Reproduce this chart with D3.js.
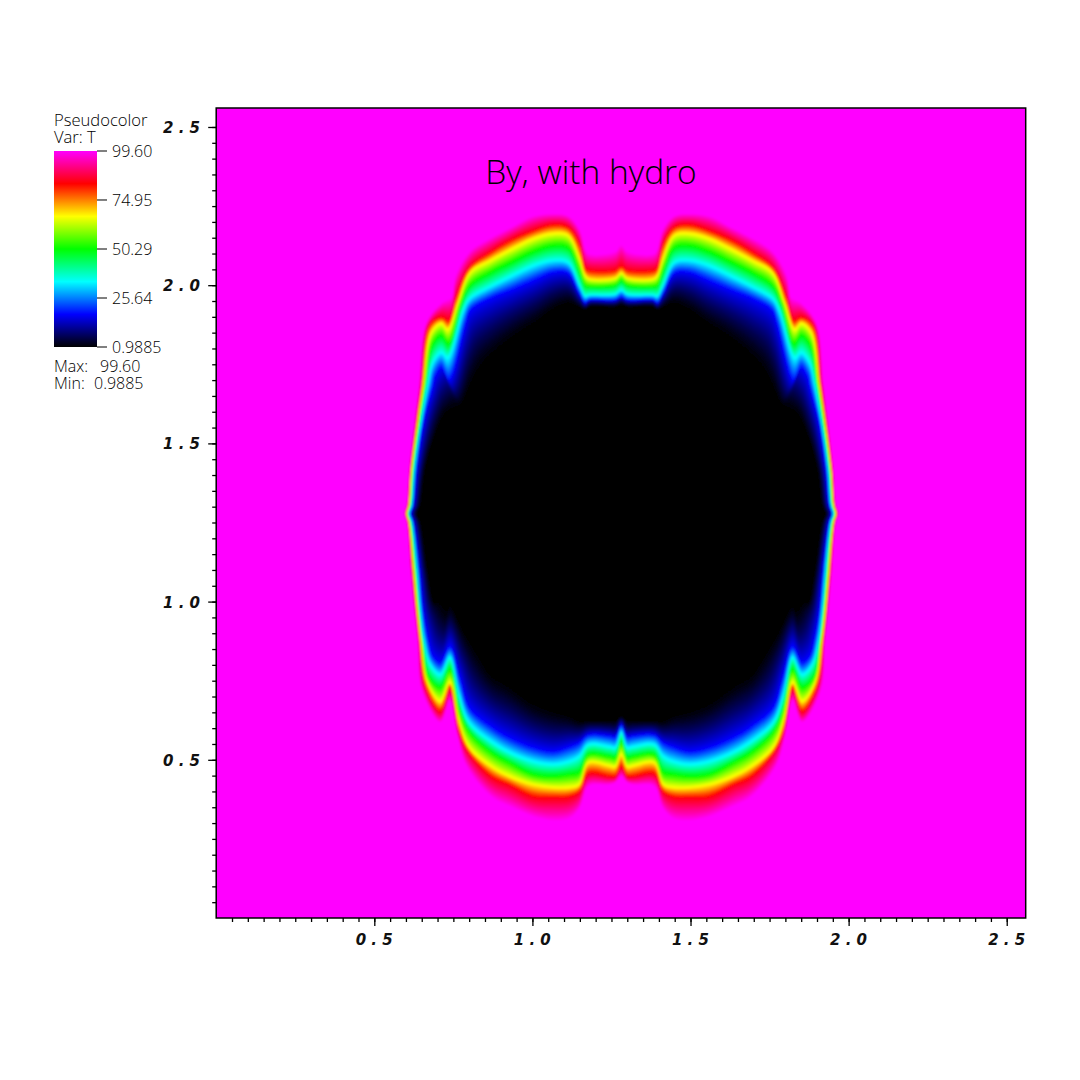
<!DOCTYPE html>
<html><head><meta charset="utf-8">
<script src="https://cdn.jsdelivr.net/npm/d3@7"></script>
<style>html,body{margin:0;padding:0;background:#fff}svg{display:block}</style>
</head><body><svg id="c" width="1080" height="1080"></svg>
<script>
const title = "By, with hydro";
const legendLines = ["Pseudocolor", "Var: T"];
const legendTicks = [99.60, 74.95, 50.29, 25.64, 0.9885];
const legendTickLabels = ["99.60", "74.95", "50.29", "25.64", "0.9885"];
const maxMinLabels = [["Max:", "99.60"], ["Min:", "0.9885"]];
const axisMajor = [0.5, 1.0, 1.5, 2.0, 2.5];
const axisMinorCount = 51;
const colorNames = ["#000000", "#0000ff", "#00ffff", "#00ff00", "#ffff00", "#ff0000", "#ff00ff"];
const colorT = [0.9885, 17.42, 33.85, 50.29, 66.72, 83.16, 99.60];
const centreX = 1.281;
// T value on each contour of the ring
const contourT = [99.6, 83.16, 66.72, 50.29, 33.85, 17.42, 0.9885];
// Right half of each contour, top centre round to bottom centre: distance from centreX, per spoke and contour
const rimDx = [
[0,0,0,0,0,0,0],
[.019,.019,.019,.019,.019,.019,.019],
[.101,.101,.101,.101,.101,.101,.101],
[.114,.114,.114,.114,.114,.114,.114],
[.133,.133,.133,.133,.133,.133,.133],
[.168,.168,.168,.168,.168,.168,.168],
[.215,.215,.215,.215,.215,.215,.215],
[.278,.278,.278,.278,.278,.278,.269],
[.351,.351,.351,.351,.351,.351,.332],
[.414,.414,.414,.414,.414,.414,.395],
[.478,.478,.478,.478,.478,.478,.443],
[.522,.522,.517,.506,.500,.493,.474],
[.535,.544,.549,.546,.549,.546,.506],
[.569,.569,.569,.569,.569,.569,.525],
[.617,.607,.601,.596,.596,.591,.544],
[.640,.631,.626,.620,.613,.596,.557],
[.653,.647,.642,.639,.632,.625,.585],
[.671,.666,.663,.659,.655,.648,.620],
[.678,.674,.671,.667,.663,.658,.635],
[.686,.682,.678,.675,.671,.666,.645],
[.678,.674,.671,.667,.663,.658,.635],
[.666,.661,.656,.652,.647,.639,.612],
[.655,.648,.645,.640,.636,.628,.590],
[.644,.639,.634,.629,.625,.612,.575],
[.632,.620,.613,.609,.604,.596,.562],
[.572,.572,.572,.572,.572,.572,.552],
[.542,.542,.542,.542,.542,.542,.542],
[.517,.512,.512,.512,.512,.512,.490],
[.490,.481,.481,.481,.481,.481,.449],
[.411,.411,.411,.411,.411,.411,.411],
[.354,.354,.354,.354,.354,.354,.354],
[.278,.278,.278,.278,.278,.278,.278],
[.215,.215,.215,.215,.215,.215,.215],
[.164,.164,.164,.164,.164,.164,.164],
[.133,.133,.133,.133,.133,.133,.133],
[.104,.104,.104,.104,.104,.104,.104],
[.038,.038,.038,.038,.038,.038,.038],
[.019,.019,.019,.019,.019,.019,.019],
[0,0,0,0,0,0,0]
];
// Height of the same points
const rimY = [
[2.133,2.061,2.039,2.016,1.985,1.963,1.937],
[2.111,2.048,2.023,2.001,1.972,1.953,1.931],
[2.102,2.048,2.020,1.997,1.969,1.953,1.931],
[2.118,2.054,2.032,2.001,1.966,1.944,1.922],
[2.181,2.133,2.089,2.048,2.001,1.975,1.928],
[2.222,2.184,2.159,2.121,2.073,2.039,1.940],
[2.228,2.193,2.165,2.127,2.080,2.042,1.920],
[2.222,2.174,2.149,2.108,2.064,2.016,1.880],
[2.184,2.143,2.114,2.073,2.029,1.985,1.840],
[2.152,2.105,2.080,2.042,1.997,1.960,1.790],
[2.111,2.058,2.042,2.001,1.960,1.922,1.740],
[2.039,1.960,1.944,1.944,1.922,1.881,1.685],
[1.969,1.890,1.862,1.817,1.773,1.700,1.620],
[1.947,1.900,1.881,1.843,1.789,1.741,1.610],
[1.881,1.874,1.852,1.817,1.757,1.710,1.600],
[1.685,1.685,1.685,1.685,1.685,1.685,1.590],
[1.574,1.574,1.574,1.574,1.574,1.574,1.530],
[1.416,1.416,1.416,1.416,1.416,1.416,1.416],
[1.305,1.305,1.305,1.305,1.305,1.305,1.305],
[1.278,1.278,1.278,1.278,1.278,1.278,1.278],
[1.252,1.252,1.252,1.252,1.252,1.252,1.252],
[1.100,1.100,1.100,1.100,1.100,1.100,1.100],
[.973,.973,.973,.973,.973,.973,1.000],
[.879,.879,.879,.879,.879,.879,1.000],
[.721,.733,.743,.759,.800,.825,.985],
[.616,.651,.683,.727,.768,.806,.975],
[.683,.727,.743,.784,.822,.857,.990],
[.572,.585,.616,.657,.698,.762,.895],
[.477,.522,.537,.588,.616,.664,.830],
[.379,.446,.477,.522,.556,.604,.770],
[.348,.420,.446,.490,.522,.569,.735],
[.316,.382,.420,.452,.493,.537,.680],
[.303,.379,.411,.446,.484,.525,.655],
[.310,.382,.411,.452,.493,.540,.640],
[.341,.398,.420,.458,.509,.553,.625],
[.414,.455,.490,.515,.547,.578,.625],
[.420,.446,.480,.509,.540,.575,.625],
[.427,.446,.477,.506,.537,.572,.625],
[.446,.477,.515,.556,.585,.610,.640]
];

const svg = d3.select("#c");
const x = d3.scaleLinear().domain([0, 2.56]).range([216.2, 1025.7]);
const y = d3.scaleLinear().domain([0, 2.56]).range([918, 108]);
const color = d3.scaleLinear().domain(colorT).range(colorNames).interpolate(d3.interpolateRgb).clamp(true);

// field background
svg.append("rect").attr("x", x(0)).attr("y", y(2.56)).attr("width", x(2.56)-x(0)).attr("height", y(0)-y(2.56)).attr("fill", color(99.6));

const defs = svg.append("defs");
defs.append("filter").attr("id", "soft").attr("filterUnits", "userSpaceOnUse").attr("x", 217).attr("y", 109).attr("width", 808).attr("height", 808)
  .append("feGaussianBlur").attr("stdDeviation", 0.9);

// nested filled contours
const line = d3.line().x(d => x(d[0])).y(d => y(d[1])).curve(d3.curveCatmullRomClosed.alpha(0.5));
const field = svg.append("g").attr("filter", "url(#soft)");
function ringAt(k, f) {
  const right = rimDx.map((row, i) => {
    const j = Math.min(k + 1, row.length - 1);
    return [row[k] + (row[j] - row[k]) * f, rimY[i][k] + (rimY[i][j] - rimY[i][k]) * f];
  });
  const pts = right.map(p => [centreX + p[0], p[1]]);
  const left = right.slice(1, -1).reverse().map(p => [centreX - p[0], p[1]]);
  return pts.concat(left);
}
const lastBand = contourT.length - 2;
for (let k = 0; k <= lastBand; k++) {
  const n = k === lastBand ? 30 : 10;
  for (let s = 0; s < n; s++) {
    const f = s / n;
    // the blue to black band has a long dark tail
    const g = k === lastBand ? 1 - Math.pow(1 - f, 1.35) : f;
    const T = contourT[k] + (contourT[k + 1] - contourT[k]) * g;
    field.append("path").attr("d", line(ringAt(k, f))).attr("fill", color(T));
  }
}
field.append("path").attr("d", line(ringAt(6, 0))).attr("fill", color(0.9885));

// frame and axes
svg.append("rect").attr("x", x(0)).attr("y", y(2.56)).attr("width", x(2.56)-x(0)).attr("height", y(0)-y(2.56))
  .attr("fill", "none").attr("stroke", "#000").attr("stroke-width", 1.5);
const minor = d3.range(axisMinorCount).map(i => i * 0.05).filter(v => v > 0);
const styleAxis = g => { g.select(".domain").remove(); g.selectAll("line").attr("stroke", "#000").attr("stroke-width", 1.3); };
svg.append("g").attr("transform", `translate(0,${y(0)})`).call(d3.axisBottom(x).tickValues(minor).tickSize(4).tickFormat("")).call(styleAxis);
svg.append("g").attr("transform", `translate(${x(0)},0)`).call(d3.axisLeft(y).tickValues(minor).tickSize(4).tickFormat("")).call(styleAxis);
const labelStyle = s => s.attr("font-family", "'DejaVu Sans'").attr("font-weight", "bold").attr("font-style", "italic")
  .attr("font-size", 15).attr("letter-spacing", 5.2).attr("fill", "#111");
const fmt = d3.format(".1f");
const bx = svg.append("g").attr("transform", `translate(0,${y(0)})`).call(d3.axisBottom(x).tickValues(axisMajor).tickSize(8).tickFormat(fmt)).call(styleAxis);
bx.selectAll("text").call(labelStyle).attr("dy", null).attr("y", 27).attr("x", 2).attr("text-anchor", "middle");
const by = svg.append("g").attr("transform", `translate(${x(0)},0)`).call(d3.axisLeft(y).tickValues(axisMajor).tickSize(8).tickFormat(fmt)).call(styleAxis);
by.selectAll("text").call(labelStyle).attr("dy", "0.36em").attr("x", -11).attr("text-anchor", "end");

// title
const sans = "'Open Sans'";
svg.append("text").attr("x", 591).attr("y", 184).attr("text-anchor", "middle").attr("font-family", sans).attr("font-weight", 300).attr("font-size", 33.5).attr("fill", "#000").text(title);

// legend
const legendY = d3.scaleLinear().domain([0.9885, 99.60]).range([347, 151]);
const legendFont = s => s.attr("font-family", sans).attr("font-weight", 300).attr("font-size", 16).attr("fill", "#000");
const head = svg.append("text").call(legendFont).attr("font-size", 16.6);
legendLines.forEach((t, i) => head.append("tspan").attr("x", 54).attr("y", 126 + i * 17).text(t));
const grad = defs.append("linearGradient").attr("id", "bar").attr("x1", 0).attr("x2", 0).attr("y1", 1).attr("y2", 0);
colorT.forEach((t, i) => grad.append("stop").attr("offset", (t - colorT[0]) / (colorT[6] - colorT[0])).attr("stop-color", colorNames[i]));
svg.append("rect").attr("x", 54).attr("y", legendY(99.6)).attr("width", 43).attr("height", legendY(0.9885) - legendY(99.6)).attr("fill", "url(#bar)");
legendTicks.forEach((t, i) => {
  svg.append("line").attr("x1", 97).attr("x2", 107).attr("y1", legendY(t)).attr("y2", legendY(t)).attr("stroke", "#000").attr("stroke-width", 1);
  svg.append("text").attr("x", 112).attr("y", legendY(t) + 6).call(legendFont).text(legendTickLabels[i]);
});
const maxMinX = [100, 94];
const mm = svg.append("text").call(legendFont);
maxMinLabels.forEach((d, i) => {
  mm.append("tspan").attr("x", 54).attr("y", 372 + i * 17).text(d[0]);
  mm.append("tspan").attr("x", maxMinX[i]).attr("y", 372 + i * 17).text(d[1]);
});
</script></body></html>
